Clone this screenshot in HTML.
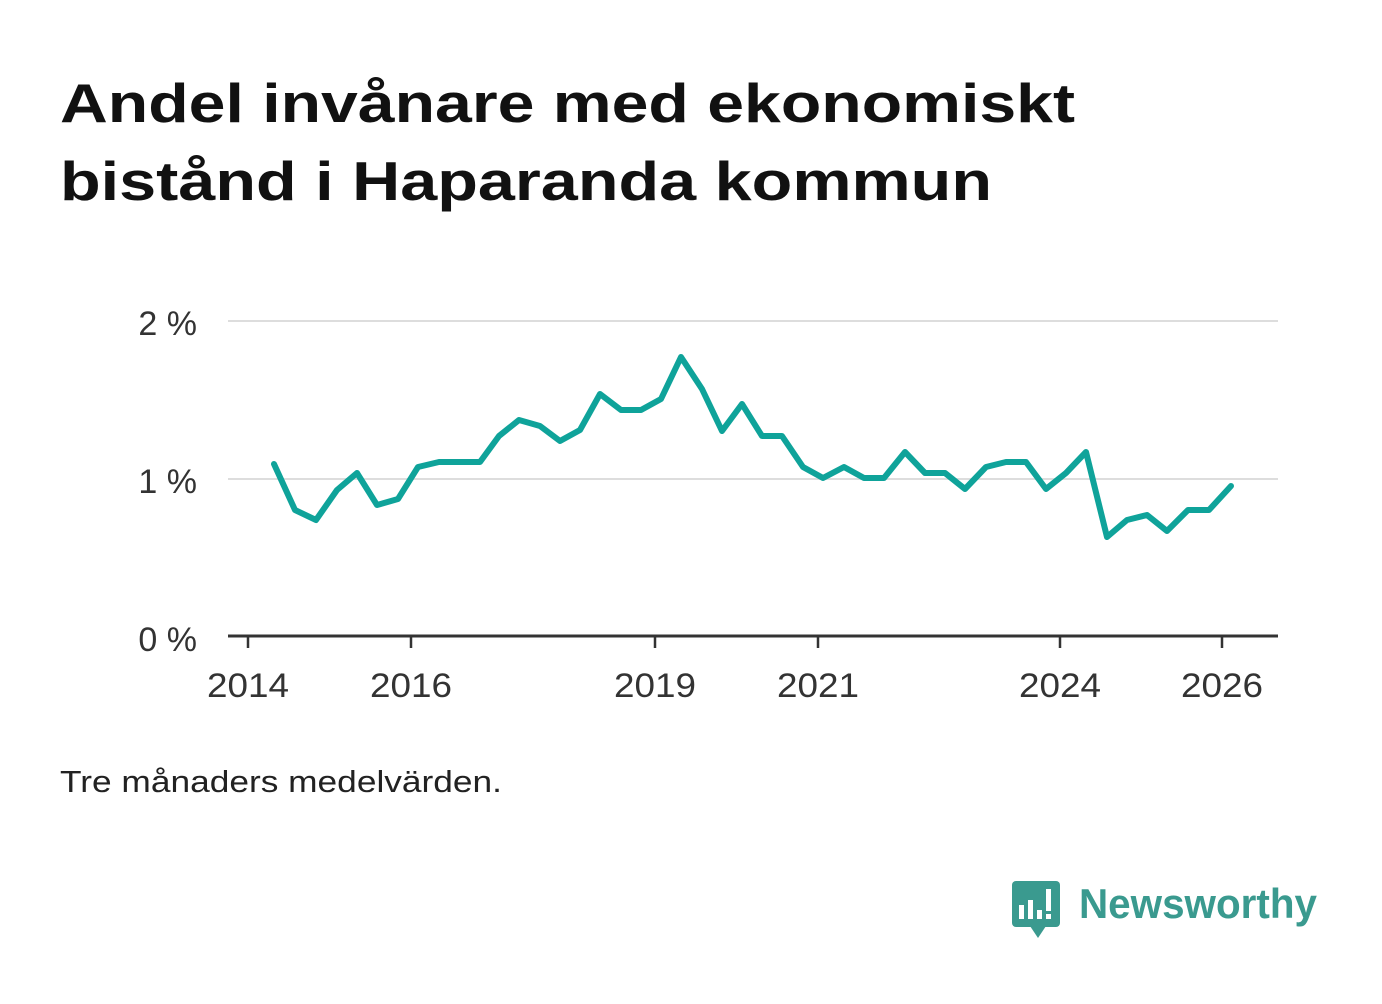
<!DOCTYPE html>
<html><head><meta charset="utf-8"><style>
body{margin:0;background:#fff;width:1382px;height:999px;overflow:hidden;font-family:"Liberation Sans","DejaVu Sans",sans-serif}
</style></head><body>
<svg width="1382" height="999" xmlns="http://www.w3.org/2000/svg" font-family="Liberation Sans, DejaVu Sans, sans-serif">
<text x="60" y="122" font-size="55" font-weight="bold" fill="#111" textLength="1015" lengthAdjust="spacingAndGlyphs">Andel invånare med ekonomiskt</text>
<text x="60" y="200" font-size="55" font-weight="bold" fill="#111" textLength="932" lengthAdjust="spacingAndGlyphs">bistånd i Haparanda kommun</text>
<line x1="228" y1="321" x2="1278" y2="321" stroke="#ddd" stroke-width="2"/>
<line x1="228" y1="479" x2="1278" y2="479" stroke="#ddd" stroke-width="2"/>
<line x1="228" y1="636" x2="1278" y2="636" stroke="#333" stroke-width="3"/>
<g font-size="34" fill="#333" text-anchor="end">
<text x="197" y="335">2 %</text><text x="197" y="493">1 %</text><text x="197" y="651">0 %</text>
</g>
<g stroke="#333" stroke-width="2.5">
<line x1="248" y1="636" x2="248" y2="648"/><line x1="411" y1="636" x2="411" y2="648"/><line x1="655" y1="636" x2="655" y2="648"/><line x1="818" y1="636" x2="818" y2="648"/><line x1="1060" y1="636" x2="1060" y2="648"/><line x1="1222" y1="636" x2="1222" y2="648"/>
</g>
<g font-size="34" fill="#333" text-anchor="middle">
<text x="248" y="697" textLength="82" lengthAdjust="spacingAndGlyphs">2014</text><text x="411" y="697" textLength="82" lengthAdjust="spacingAndGlyphs">2016</text><text x="655" y="697" textLength="82" lengthAdjust="spacingAndGlyphs">2019</text><text x="818" y="697" textLength="82" lengthAdjust="spacingAndGlyphs">2021</text><text x="1060" y="697" textLength="82" lengthAdjust="spacingAndGlyphs">2024</text><text x="1222" y="697" textLength="82" lengthAdjust="spacingAndGlyphs">2026</text>
</g>
<polyline fill="none" stroke="#0fa39a" stroke-width="6" stroke-linejoin="round" stroke-linecap="round" points="274,464 295,510 316,520 337,490 357,473 377,505 398,499 418,467 439,462 459,462 480,462 499,436 519,420 540,426 560,441 580,430 600,394 621,410 641,410 661,399 681,357 702,389 722,431 742,404 762,436 782,436 803,467 823,478 844,467 864,478 884,478 905,452 925,473 945,473 965,489 986,467 1006,462 1026,462 1046,489 1066,473 1086,452 1107,537 1127,520 1147,515 1167,531 1188,510 1209,510 1231,486"/>
<text x="60" y="792" font-size="31" fill="#222" textLength="442" lengthAdjust="spacingAndGlyphs">Tre månaders medelvärden.</text>
<g>
<rect x="1012" y="881" width="48" height="46" rx="4" fill="#3a9a8f"/>
<polygon points="1030,926 1046,926 1038,938" fill="#3a9a8f"/>
<rect x="1019" y="905" width="5" height="14" fill="#fff"/>
<rect x="1028" y="900" width="5" height="19" fill="#fff"/>
<rect x="1037" y="910" width="5" height="9" fill="#fff"/>
<rect x="1046" y="889" width="5" height="22" fill="#fff"/>
<rect x="1046" y="914" width="5" height="5" fill="#fff"/>
</g>
<text x="1079" y="918" font-size="42" font-weight="bold" fill="#3a9a8f" textLength="238" lengthAdjust="spacingAndGlyphs">Newsworthy</text>
</svg>
</body></html>
